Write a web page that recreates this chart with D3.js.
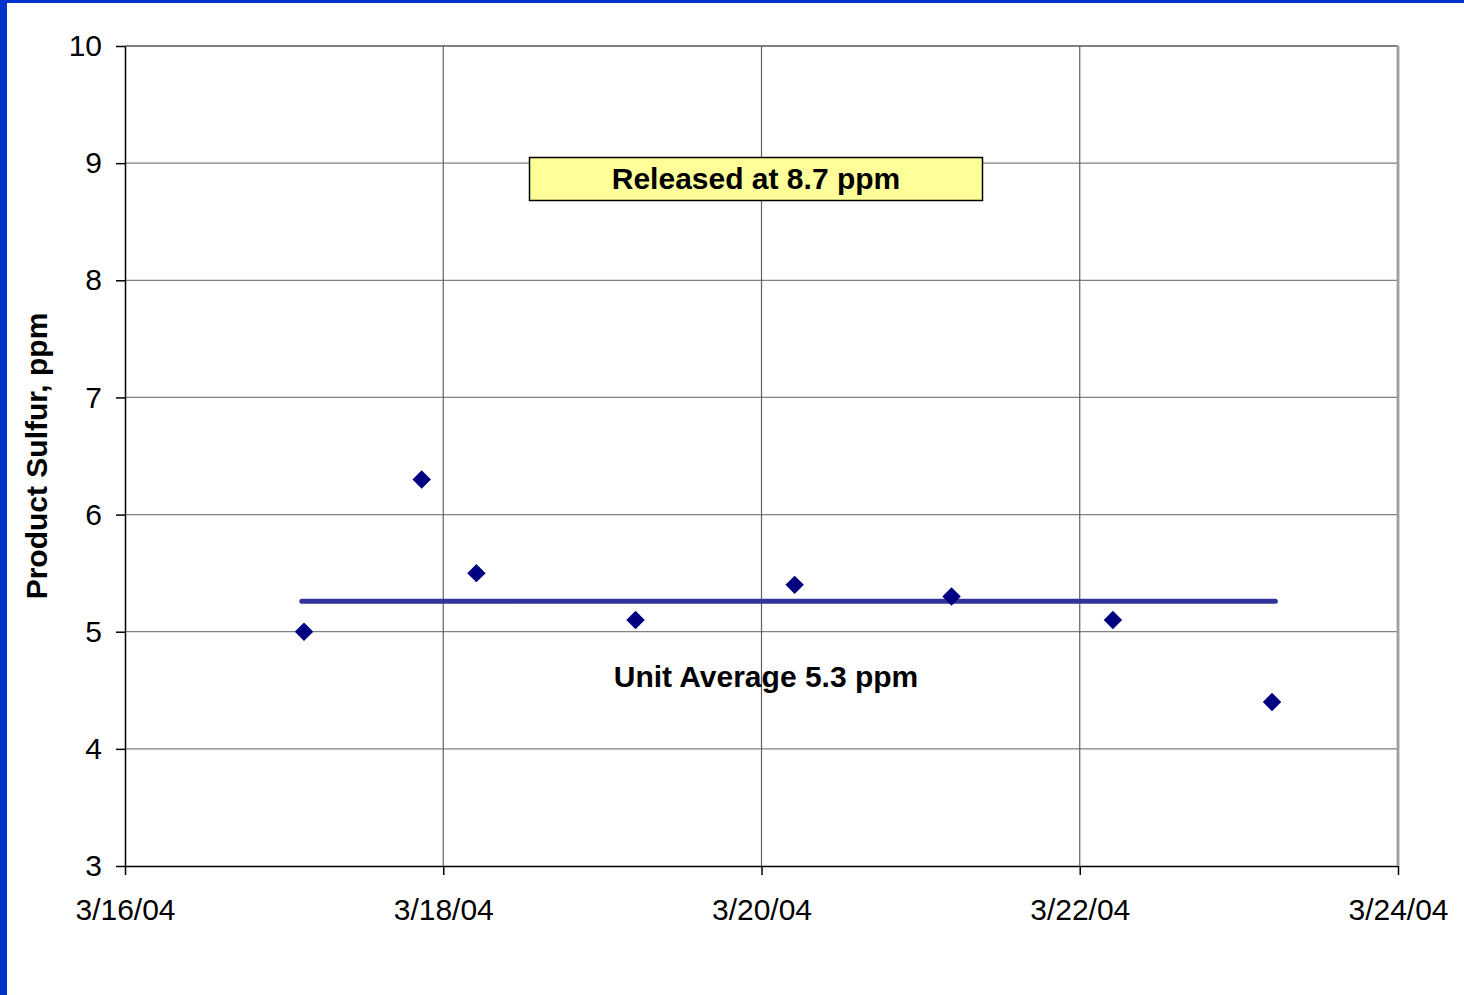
<!DOCTYPE html>
<html>
<head>
<meta charset="utf-8">
<script src="https://cdn.jsdelivr.net/npm/d3@7"></script>
<style>
	body { margin: 0; background: #fff; }
	svg { display: block; font-family: Arial, "Liberation Sans", sans-serif; }
</style>
</head>
<body>
<svg id="chart"></svg>
<script>
// sample dates and sulfur values
const sampleDates = ["2004-03-17T03:00", "2004-03-17T20:45", "2004-03-18T05:00", "2004-03-19T05:00",
	"2004-03-20T05:00", "2004-03-21T04:40", "2004-03-22T05:00", "2004-03-23T05:00"];
const sulfurValues = [5.0, 6.3, 5.5, 5.1, 5.4, 5.3, 5.1, 4.4];

// unit average line
const averageSpan = ["2004-03-17T02:40", "2004-03-23T05:30"];
const averageValue = 5.26;

const xTickLabels = ["3/16/04", "3/18/04", "3/20/04", "3/22/04", "3/24/04"];
const xTickDates = ["2004-03-16", "2004-03-18", "2004-03-20", "2004-03-22", "2004-03-24"];
const yTicks = [3, 4, 5, 6, 7, 8, 9, 10];

const releasedLabel = "Released at 8.7 ppm";
const averageLabel = "Unit Average 5.3 ppm";
const yTitle = "Product Sulfur, ppm";

const parse = d3.utcParse("%Y-%m-%dT%H:%M");
const parseDay = d3.utcParse("%Y-%m-%d");

const width = 1464, height = 995;
const svg = d3.select("#chart").attr("width", width).attr("height", height);

// blue slide frame (left and top)
svg.append("rect").attr("x", 0).attr("y", 0).attr("width", width).attr("height", 3).attr("fill", "#0033cc");
svg.append("rect").attr("x", 0).attr("y", 0).attr("width", 7).attr("height", height).attr("fill", "#0033cc");

const plotLeft = 125, plotRight = 1398, plotTop = 46, plotBottom = 866;
const fontFamily = "Arial, 'Liberation Sans', sans-serif";

const x = d3.scaleUtc()
	.domain([parseDay(xTickDates[0]), parseDay(xTickDates[xTickDates.length - 1])])
	.range([plotLeft, plotRight]);
const y = d3.scaleLinear().domain([3, 10]).range([plotBottom, plotTop]);

// gridlines
svg.append("g").selectAll("line")
	.data(yTicks.slice(1))
	.enter().append("line")
	.attr("x1", plotLeft).attr("x2", plotRight)
	.attr("y1", (d) => y(d)).attr("y2", (d) => y(d))
	.attr("stroke", "#808080").attr("stroke-width", (d) => d == 10 ? 2 : 1.2);

svg.append("g").selectAll("line")
	.data(xTickDates.slice(1))
	.enter().append("line")
	.attr("x1", (d) => x(parseDay(d))).attr("x2", (d) => x(parseDay(d)))
	.attr("y1", plotTop).attr("y2", plotBottom)
	.attr("stroke", (d, i) => i == 3 ? "#a0a0a0" : "#606060")
	.attr("stroke-width", (d, i) => i == 3 ? 2.5 : 1.2);

// y axis
const yAxis = svg.append("g")
	.attr("transform", `translate(${plotLeft},0)`)
	.call(d3.axisLeft(y).tickValues(yTicks).tickFormat(d3.format("d"))
		.tickSize(9).tickPadding(14).tickSizeOuter(0));
yAxis.select(".domain").attr("stroke", "#000").attr("stroke-width", 1.5);
yAxis.selectAll(".tick line").attr("stroke", "#000").attr("stroke-width", 1.5);
yAxis.selectAll("text").attr("font-size", 30).attr("fill", "#000")
	.attr("font-family", fontFamily);

// x axis
const xAxis = svg.append("g")
	.attr("transform", `translate(0,${plotBottom})`)
	.call(d3.axisBottom(x)
		.tickValues(xTickDates.map(parseDay))
		.tickFormat((d, i) => xTickLabels[i])
		.tickSize(9).tickPadding(24).tickSizeOuter(0));
xAxis.select(".domain").attr("stroke", "#000").attr("stroke-width", 1.5);
xAxis.selectAll(".tick line").attr("stroke", "#000").attr("stroke-width", 1.5);
xAxis.selectAll("text").attr("font-size", 30).attr("fill", "#000")
	.attr("font-family", fontFamily);

// y title
svg.append("text")
	.attr("transform", `translate(47,456) rotate(-90)`)
	.attr("text-anchor", "middle")
	.attr("font-size", 30).attr("font-weight", "bold")
	.text(yTitle);

// average line
svg.append("line")
	.attr("x1", x(parse(averageSpan[0]))).attr("x2", x(parse(averageSpan[1])))
	.attr("y1", y(averageValue)).attr("y2", y(averageValue))
	.attr("stroke", "#333399").attr("stroke-width", 5).attr("stroke-linecap", "round");

// data points, diamonds
const diamond = d3.symbol().type(d3.symbolSquare).size(170);
svg.append("g").selectAll("path")
	.data(sampleDates.map((d, i) => ({ date: parse(d), value: sulfurValues[i] })))
	.enter().append("path")
	.attr("d", diamond)
	.attr("transform", (d) => `translate(${x(d.date)},${y(d.value)}) rotate(45)`)
	.attr("fill", "#000080");

// released annotation box
const box = svg.append("g");
box.append("rect")
	.attr("x", 529.5).attr("y", 157.5).attr("width", 453).attr("height", 43)
	.attr("fill", "#ffff99").attr("stroke", "#000").attr("stroke-width", 1.5);
box.append("text")
	.attr("x", 756).attr("y", 189)
	.attr("text-anchor", "middle")
	.attr("font-size", 30).attr("font-weight", "bold")
	.text(releasedLabel);

// average annotation
svg.append("text")
	.attr("x", 766).attr("y", 687)
	.attr("text-anchor", "middle")
	.attr("font-size", 30).attr("font-weight", "bold")
	.text(averageLabel);

// right border of the plot
svg.append("line")
	.attr("x1", plotRight).attr("x2", plotRight).attr("y1", plotTop).attr("y2", plotBottom)
	.attr("stroke", "#a0a0a0").attr("stroke-width", 2.5);
</script>
</body>
</html>
